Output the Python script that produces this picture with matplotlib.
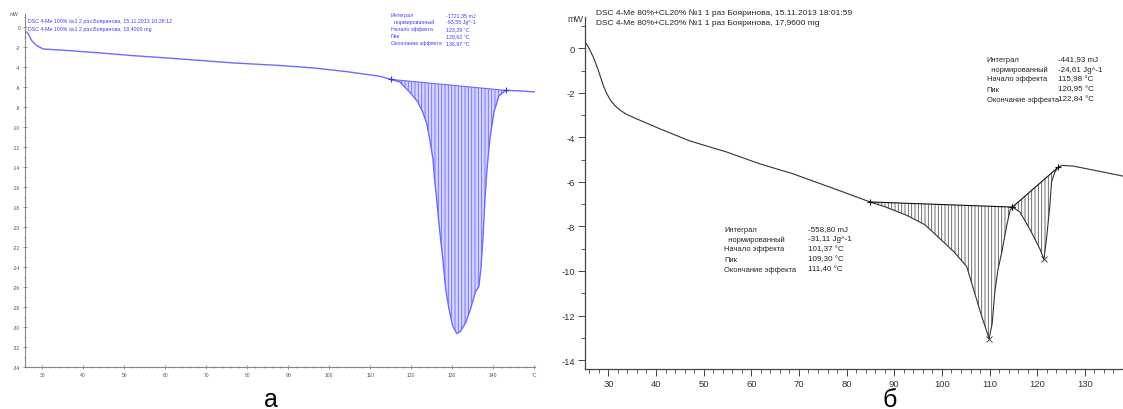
import matplotlib
matplotlib.use('Agg')
import matplotlib.pyplot as plt
from matplotlib.ticker import MultipleLocator

plt.rcParams['font.family'] = ['Liberation Sans', 'DejaVu Sans']
plt.rcParams['hatch.linewidth'] = 0.6
plt.rcParams['axes.unicode_minus'] = False

# ---- panel a (blue curve) ----
t_a = [25.8, 26.6, 27.4, 28.6, 30.2, 32.7, 36.0, 44.1, 52.2, 60.3, 68.5, 76.6, 87.8,
       96.1, 104.2, 112.3, 115.0, 117.2, 119.6, 121.6, 122.8, 123.8, 124.5, 125.3,
       125.7, 126.2, 126.9, 127.7, 128.4, 129.2, 130.1, 131.1, 132.0, 133.3, 134.5,
       135.7, 136.5, 137.0, 137.5, 138.0, 138.5, 139.2, 140.2, 141.4, 143.1, 146.5, 150.0]
p_a = [-0.3, -0.65, -1.3, -1.8, -2.15, -2.22, -2.3, -2.55, -2.82, -3.05, -3.3, -3.55, -3.8,
       -4.05, -4.42, -4.88, -5.2, -5.45, -6.45, -7.45, -8.45, -9.65, -11.15, -13.15,
       -15.15, -17.15, -20.15, -23.15, -26.15, -28.15, -29.85, -30.65, -30.45, -29.55, -28.15,
       -26.45, -25.95, -24.15, -21.15, -17.15, -14.15, -11.15, -8.45, -6.85, -6.3, -6.35, -6.45]
on_a, end_a = 16, 44

head_a = ['DSC 4-Me 100% №1 2 раз Бояринова, 15.11.2013 10:28:12',
          'DSC 4-Me 100% №1 2 раз Бояринова, 18,4000 mg']
names_a = ['Интеграл', '  нормированный', 'Начало эффекта', 'Пик', 'Окончание эффекта']
vals_a = ['-1721,35 mJ', '-93,55 Jg^-1', '123,29 °C', '129,62 °C', '136,97 °C']
xt_a = [30, 40, 50, 60, 70, 80, 90, 100, 110, 120, 130, 140, 150]
xl_a = ['30', '40', '50', '60', '70', '80', '90', '100', '110', '120', '130', '140', '°C']

# ---- panel б (black curve) ----
t_b = [25.1, 25.7, 26.85, 27.8, 28.95, 29.7, 30.5, 31.5, 32.6, 33.85, 35.95, 40.85, 47.1,
       54.85, 61.8, 68.8, 78.6, 84.9, 88.1, 92.6, 96.4, 99.6, 102.7, 105.2, 106.6, 108.3,
       109.9, 110.55, 111.1, 111.8, 112.5, 113.6, 114.3, 114.8, 116.35, 118.4, 120.55, 121.4,
       121.95, 122.65, 123.0, 123.7, 124.4, 125.2, 127.55, 133.2, 138.0]
p_b = [0.27, 0.1, -0.4, -0.93, -1.68, -2.05, -2.35, -2.6, -2.8, -2.97, -3.17, -3.62, -4.16,
       -4.66, -5.19, -5.64, -6.4, -6.9, -7.12, -7.5, -7.92, -8.55, -9.18, -9.8, -10.8, -12.0,
       -13.04, -12.36, -10.94, -9.9, -9.22, -7.96, -7.28, -7.13, -7.35, -8.1, -9.0, -9.48,
       -8.55, -7.06, -6.01, -5.56, -5.34, -5.26, -5.29, -5.53, -5.74]
peaks_b = [(17, 26, 33), (33, 37, 42)]  # onset, peak, end indices

head_b = ['DSC 4-Me 80%+CL20% №1 1 раз Бояринова, 15.11.2013 18:01:59',
          'DSC 4-Me 80%+CL20% №1 1 раз Бояринова, 17,9600 mg']
names_b = ['Интеграл', '  нормированный', 'Начало эффекта', 'Пик', 'Окончание эффекта']
vals_b1 = ['-441,93 mJ', '-24,61 Jg^-1', '115,98 °C', '120,95 °C', '122,84 °C']
vals_b2 = ['-558,80 mJ', '-31,11 Jg^-1', '101,37 °C', '109,30 °C', '111,40 °C']

W, H = 1123, 410
fig = plt.figure(figsize=(W / 100, H / 100), dpi=100)

def px(x, y):
    return x / W, 1 - y / H

# ================= panel a =================
ax1 = fig.add_axes([25 / W, 1 - 368 / H, 510 / W, 353 / H])
blue = '#6b6bff'
ax1.plot(t_a, p_a, color=blue, lw=1.0)
ax1.fill(t_a[on_a:end_a + 1], p_a[on_a:end_a + 1], facecolor='#d4d4ff',
         edgecolor=blue, hatch='|||||', lw=0)
ax1.plot([t_a[on_a], t_a[end_a]], [p_a[on_a], p_a[end_a]], color=blue, lw=0.8)
ax1.plot([t_a[on_a], t_a[end_a]], [p_a[on_a], p_a[end_a]], ls='none', marker='+',
         ms=5, mew=0.8, color='#3030ff')
ax1.set_xlim(25.8, 150.2)
ax1.set_ylim(-34, 1.35)
for s in ['top', 'right']:
    ax1.spines[s].set_visible(False)
for s in ['left', 'bottom']:
    ax1.spines[s].set_color('#888888')
    ax1.spines[s].set_linewidth(0.8)
ax1.set_xticks(xt_a)
ax1.set_xticklabels(xl_a)
ax1.xaxis.set_minor_locator(MultipleLocator(2))
ax1.yaxis.set_major_locator(MultipleLocator(2))
ax1.yaxis.set_minor_locator(MultipleLocator(1))
ax1.tick_params(which='both', direction='inout', colors='#888888', labelcolor='#555555',
                labelsize=3.6, pad=2)
ax1.tick_params(which='major', length=3, width=0.6)
ax1.tick_params(which='minor', length=2, width=0.5)
fig.text(*px(10, 15), 'mW', fontsize=3.6, color='#555555', va='center')
for i, s in enumerate(head_a):
    fig.text(*px(28, 21.7 + 7.6 * i), s, fontsize=3.8, color='#3c3cff', va='center')
for i, (n, v) in enumerate(zip(names_a, vals_a)):
    fig.text(*px(391, 15.7 + 6.9 * i), n, fontsize=3.8, color='#3c3cff', va='center')
    fig.text(*px(446, 15.7 + 6.9 * i), v, fontsize=3.8, color='#3c3cff', va='center')
fig.text(*px(271, 407), 'а', fontsize=18, ha='center', va='baseline')

# ================= panel б =================
ax2 = fig.add_axes([585 / W, 1 - 370 / H, 538 / W, 351.7 / H])
dark = '#333333'
ax2.plot(t_b, p_b, color=dark, lw=0.8)
for on, pk, en in peaks_b:
    ax2.fill(t_b[on:en + 1], p_b[on:en + 1], facecolor='white', edgecolor='#555555',
             hatch='|||||', lw=0)
    ax2.plot([t_b[on], t_b[en]], [p_b[on], p_b[en]], color='#111111', lw=0.8)
    ax2.plot([t_b[on], t_b[en]], [p_b[on], p_b[en]], ls='none', marker='+', ms=5,
             mew=0.8, color='#111111')
    ax2.plot(t_b[pk], p_b[pk], ls='none', marker='x', ms=4, mew=0.7, color='#444444')
ax2.set_xlim(25.1, 138.0)
ax2.set_ylim(-14.4, 1.39)
for s in ['top', 'right']:
    ax2.spines[s].set_visible(False)
for s in ['left', 'bottom']:
    ax2.spines[s].set_color('#444444')
    ax2.spines[s].set_linewidth(0.9)
ax2.xaxis.set_major_locator(MultipleLocator(10))
ax2.xaxis.set_minor_locator(MultipleLocator(2))
ax2.yaxis.set_major_locator(MultipleLocator(2))
ax2.yaxis.set_minor_locator(MultipleLocator(1))
ax2.tick_params(which='both', colors='#444444', labelcolor='#333333', labelsize=6.8, pad=2)
ax2.tick_params(which='major', length=5, width=0.7)
ax2.tick_params(which='minor', length=3, width=0.6)
fig.text(*px(575, 20), 'mW', fontsize=6.5, color='#333333', va='center', ha='center')
for i, s in enumerate(head_b):
    fig.text(*px(596, 13.3 + 10 * i), s, fontsize=6.0, color='#222222', va='center')
for i, (n, v) in enumerate(zip(names_b, vals_b1)):
    fig.text(*px(986.7, 60 + 10 * i), n, fontsize=5.4, color='#222222', va='center')
    fig.text(*px(1058.5, 60 + 10 * i), v, fontsize=5.8, color='#222222', va='center')
for i, (n, v) in enumerate(zip(names_b, vals_b2)):
    fig.text(*px(724, 230 + 10 * i), n, fontsize=5.4, color='#222222', va='center')
    fig.text(*px(807.5, 230 + 10 * i), v, fontsize=5.8, color='#222222', va='center')
fig.text(*px(890, 407), 'б', fontsize=18, ha='center', va='baseline')

fig.savefig('out.png', dpi=100)
